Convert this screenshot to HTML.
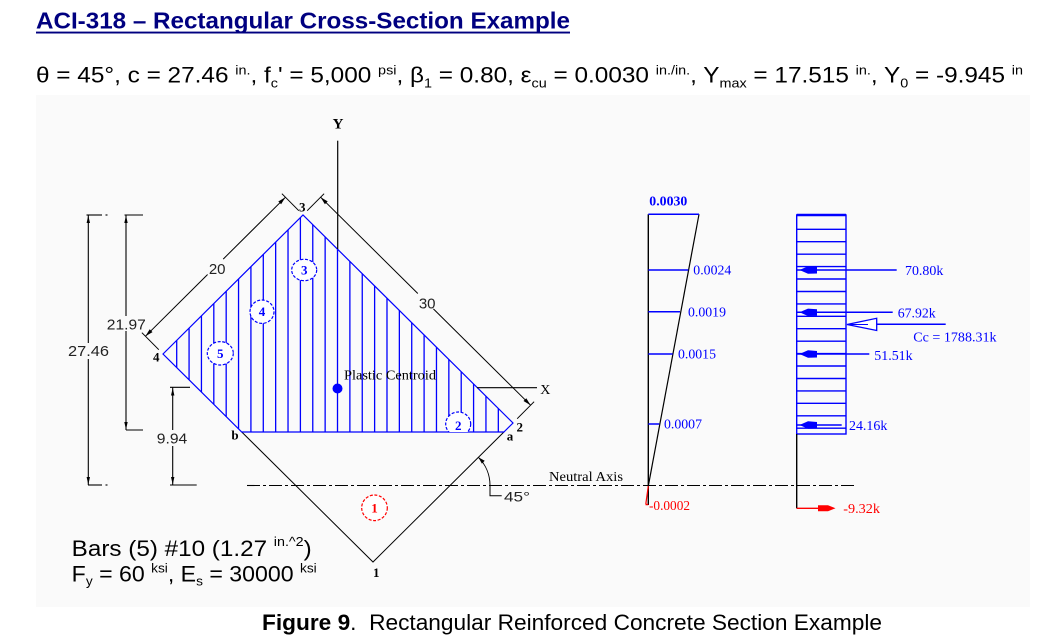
<!DOCTYPE html>
<html><head><meta charset="utf-8">
<style>
html,body{margin:0;padding:0;background:#fff;}
body{width:1056px;height:644px;overflow:hidden;}
svg{display:block;}
.s{font-family:"Liberation Sans",sans-serif;}
.r{font-family:"Liberation Serif",serif;}
</style></head><body>
<svg width="1056" height="644" viewBox="0 0 1056 644" xmlns="http://www.w3.org/2000/svg">
<rect x="36" y="95" width="994" height="512" fill="#fafafa"/>

<!-- Title -->
<text x="36" y="28.5" class="s" font-size="23" font-weight="bold" fill="#000080" textLength="534" lengthAdjust="spacingAndGlyphs">ACI-318 – Rectangular Cross-Section Example</text>
<rect x="36" y="31.6" width="534" height="1.9" fill="#000080"/>

<!-- Formula -->
<text x="36" y="82.5" class="s" font-size="22" fill="#000" textLength="987" lengthAdjust="spacingAndGlyphs" style="white-space:pre">θ = 45°, c = 27.46 <tspan font-size="13" dy="-8">in.</tspan><tspan dy="8">, f</tspan><tspan font-size="13" dy="5">c</tspan><tspan dy="-5">' = 5,000 </tspan><tspan font-size="13" dy="-8">psi</tspan><tspan dy="8">, β</tspan><tspan font-size="13" dy="5">1</tspan><tspan dy="-5"> = 0.80, ε</tspan><tspan font-size="13" dy="5">cu</tspan><tspan dy="-5"> = 0.0030 </tspan><tspan font-size="13" dy="-8">in./in.</tspan><tspan dy="8">, Y</tspan><tspan font-size="13" dy="5">max</tspan><tspan dy="-5"> = 17.515 </tspan><tspan font-size="13" dy="-8">in.</tspan><tspan dy="8">, Y</tspan><tspan font-size="13" dy="5">0</tspan><tspan dy="-5"> = -9.945 </tspan><tspan font-size="13" dy="-8">in</tspan></text>

<!-- Hatch lines -->
<g stroke="#0000ff" stroke-width="1.3">
<line x1="176.7" y1="340.4" x2="176.7" y2="367.6"/>
<line x1="189.07" y1="328.1" x2="189.07" y2="379.8"/>
<line x1="201.44" y1="315.8" x2="201.44" y2="392.1"/>
<line x1="213.81" y1="303.6" x2="213.81" y2="404.3"/>
<line x1="226.18" y1="291.3" x2="226.18" y2="416.6"/>
<line x1="238.55" y1="279.0" x2="238.55" y2="428.8"/>
<line x1="250.92" y1="266.7" x2="250.92" y2="432"/>
<line x1="263.29" y1="254.4" x2="263.29" y2="432"/>
<line x1="275.66" y1="242.1" x2="275.66" y2="432"/>
<line x1="288.03" y1="229.9" x2="288.03" y2="432"/>
<line x1="300.4" y1="217.6" x2="300.4" y2="432"/>
<line x1="312.77" y1="224.7" x2="312.77" y2="432"/>
<line x1="325.14" y1="236.9" x2="325.14" y2="432"/>
<line x1="337.51" y1="249.2" x2="337.51" y2="432"/>
<line x1="349.88" y1="261.4" x2="349.88" y2="432"/>
<line x1="362.25" y1="273.7" x2="362.25" y2="432"/>
<line x1="374.62" y1="285.9" x2="374.62" y2="432"/>
<line x1="386.99" y1="298.2" x2="386.99" y2="432"/>
<line x1="399.36" y1="310.4" x2="399.36" y2="432"/>
<line x1="411.73" y1="322.7" x2="411.73" y2="432"/>
<line x1="424.1" y1="334.9" x2="424.1" y2="432"/>
<line x1="436.47" y1="347.2" x2="436.47" y2="432"/>
<line x1="448.84" y1="359.4" x2="448.84" y2="432"/>
<line x1="461.21" y1="371.7" x2="461.21" y2="432"/>
<line x1="473.58" y1="384.0" x2="473.58" y2="432"/>
<line x1="485.95" y1="396.2" x2="485.95" y2="432"/>
<line x1="498.32" y1="408.4" x2="498.32" y2="432"/>
</g>

<!-- Diamond outline -->
<polyline points="241.75,432 373,562 503.9,432" fill="none" stroke="#000" stroke-width="1"/>
<polygon points="163,354 303,215 513,423 503.9,432 241.75,432" fill="none" stroke="#0000ff" stroke-width="1.2"/>

<!-- Axes -->
<line x1="337.7" y1="140.7" x2="337.7" y2="249" stroke="#000" stroke-width="1.2"/>
<text x="338" y="128.3" class="r" font-size="15" font-weight="bold" text-anchor="middle">Y</text>
<line x1="477" y1="387.7" x2="537" y2="387.7" stroke="#000" stroke-width="1.2"/>
<text x="545.3" y="394" class="r" font-size="14" text-anchor="middle">X</text>
<circle cx="337.5" cy="388.5" r="5" fill="#0000ff"/>
<text x="344" y="379.5" class="r" font-size="14" textLength="92" lengthAdjust="spacingAndGlyphs">Plastic Centroid</text>

<!-- Dimension 20 -->
<g stroke="#000" stroke-width="1" fill="none">
<line x1="145.4" y1="336.3" x2="207.6" y2="274.5"/>
<line x1="223.2" y1="259.1" x2="285.4" y2="197.3"/>
<line x1="298.8" y1="210.7" x2="281.9" y2="193.7"/>
<line x1="158.8" y1="349.7" x2="141.9" y2="332.7"/>
<!-- Dimension 30 -->
<line x1="320.6" y1="197.2" x2="417.8" y2="293.5"/>
<line x1="433.4" y1="308.9" x2="530.6" y2="405.2"/>
<line x1="307.2" y1="210.7" x2="324.1" y2="193.7"/>
<line x1="517.2" y1="418.7" x2="534.1" y2="401.7"/>
</g>
<g fill="#000">
<polygon points="285.4,197.3 281.1,204.3 278.3,201.5"/>
<polygon points="145.4,336.3 152.5,332.1 149.7,329.3"/>
<polygon points="320.6,197.2 327.7,201.4 324.9,204.2"/>
<polygon points="530.6,405.2 526.3,398.2 523.5,401.0"/>
</g>
<text x="217.2" y="274" class="s" font-size="15" fill="#222" text-anchor="middle">20</text>
<text x="427.2" y="308.3" class="s" font-size="15" fill="#222" text-anchor="middle">30</text>

<!-- Vertical dims -->
<g stroke="#000" stroke-width="1.1">
<line x1="88.3" y1="215" x2="88.3" y2="343"/>
<line x1="88.3" y1="359" x2="88.3" y2="485"/>
<line x1="86.5" y1="215" x2="102" y2="215"/>
<line x1="105.5" y1="215" x2="107.5" y2="215"/>
<line x1="88" y1="485" x2="102" y2="485"/>
<line x1="105.5" y1="485" x2="107.5" y2="485"/>
<line x1="126" y1="215" x2="126" y2="316"/>
<line x1="126" y1="331" x2="126" y2="430"/>
<line x1="124.5" y1="215" x2="143" y2="215"/>
<line x1="126" y1="430" x2="143" y2="430"/>
<line x1="172.7" y1="387.3" x2="172.7" y2="430"/>
<line x1="172.7" y1="446" x2="172.7" y2="485"/>
<line x1="170" y1="387.3" x2="190" y2="387.3"/>
<line x1="170" y1="485" x2="196.7" y2="485"/>
</g>
<g fill="#000">
<polygon points="88.3,215.5 86.6,223 90,223"/>
<polygon points="88.3,484.5 86.6,477 90,477"/>
<polygon points="126,215.5 124.3,223 127.7,223"/>
<polygon points="126,429.5 124.3,422 127.7,422"/>
<polygon points="172.7,388 171,395.5 174.4,395.5"/>
<polygon points="172.7,484.5 171,477 174.4,477"/>
</g>
<text x="88.5" y="356" class="s" font-size="15" fill="#222" text-anchor="middle" textLength="41" lengthAdjust="spacingAndGlyphs">27.46</text>
<text x="126.3" y="329.3" class="s" font-size="15" fill="#222" text-anchor="middle" textLength="39" lengthAdjust="spacingAndGlyphs">21.97</text>
<text x="172" y="443.3" class="s" font-size="15" fill="#222" text-anchor="middle" textLength="30.5" lengthAdjust="spacingAndGlyphs">9.94</text>

<!-- Neutral axis -->
<line x1="247" y1="485.5" x2="855" y2="485.5" stroke="#000" stroke-width="1.1" stroke-dasharray="13 3 3 3"/>
<text x="549" y="481" class="r" font-size="14" textLength="74" lengthAdjust="spacingAndGlyphs">Neutral Axis</text>

<!-- 45 deg -->
<path d="M490,485.5 A40,40 0 0 0 478.3,457.2" fill="none" stroke="#000" stroke-width="1"/>
<polygon points="478.3,457.2 484.7,460.8 481.9,463.6" fill="#000"/>
<polyline points="490,485.5 490,495.7 501.7,495.7" fill="none" stroke="#000" stroke-width="1"/>
<text x="504" y="501.7" class="s" font-size="14" fill="#222" textLength="26" lengthAdjust="spacingAndGlyphs">45°</text>

<!-- Corner labels -->
<g class="r" font-size="13" font-weight="bold" text-anchor="middle" fill="#000">
<text x="302.3" y="211.7">3</text>
<text x="156.3" y="361.7">4</text>
<text x="235" y="439.3">b</text>
<text x="519.7" y="431.7">2</text>
<text x="510" y="440.7">a</text>
<text x="376.3" y="577">1</text>
</g>

<!-- Circles -->
<defs><clipPath id="c2"><rect x="430" y="400" width="60" height="32"/></clipPath></defs>
<g fill="#fff" stroke-width="1.2" stroke-dasharray="3 1.6">
<ellipse cx="374.5" cy="507.8" rx="12.8" ry="12.8" stroke="#ff0000"/>
<ellipse cx="304.2" cy="270" rx="12.5" ry="10.7" stroke="#0000ff"/>
<ellipse cx="262" cy="311.7" rx="12" ry="11.7" stroke="#0000ff"/>
<ellipse cx="220.3" cy="353.3" rx="13" ry="11.7" stroke="#0000ff"/>
<ellipse cx="458.2" cy="424" rx="12.5" ry="12" stroke="#0000ff" clip-path="url(#c2)"/>
</g>
<g class="r" font-size="13" font-weight="bold" text-anchor="middle">
<text x="374.5" y="512.5" fill="#ff0000">1</text>
<text x="304.2" y="274.5" fill="#0000ff">3</text>
<text x="262" y="316.2" fill="#0000ff">4</text>
<text x="220.3" y="357.8" fill="#0000ff">5</text>
<text x="458.2" y="430" fill="#0000ff">2</text>
</g>

<!-- Strain diagram -->
<line x1="648.3" y1="214.3" x2="648.3" y2="505" stroke="#000" stroke-width="1.4"/>
<line x1="699" y1="214.3" x2="648.3" y2="486" stroke="#000" stroke-width="1.2"/>
<line x1="648.3" y1="486" x2="645.8" y2="504" stroke="#ff0000" stroke-width="1.2"/>
<line x1="645.5" y1="504.5" x2="648.3" y2="504.5" stroke="#ff0000" stroke-width="1.5"/>
<g stroke="#0000ff" stroke-width="1.5">
<line x1="648.3" y1="214.3" x2="699" y2="214.3"/>
<line x1="648.3" y1="270" x2="688.3" y2="270"/>
<line x1="648.3" y1="311.7" x2="680" y2="311.7"/>
<line x1="648.3" y1="354" x2="672.7" y2="354"/>
<line x1="648.3" y1="424" x2="659.3" y2="424"/>
</g>
<g class="r" font-size="14" fill="#0000ff">
<text x="649.3" y="205.5" font-weight="bold" textLength="38" lengthAdjust="spacingAndGlyphs">0.0030</text>
<text x="693.3" y="274.5" textLength="38" lengthAdjust="spacingAndGlyphs">0.0024</text>
<text x="688" y="316.5" textLength="38" lengthAdjust="spacingAndGlyphs">0.0019</text>
<text x="678" y="358.5" textLength="38" lengthAdjust="spacingAndGlyphs">0.0015</text>
<text x="664" y="428.5" textLength="38" lengthAdjust="spacingAndGlyphs">0.0007</text>
<text x="649" y="510" fill="#ff0000" textLength="41" lengthAdjust="spacingAndGlyphs">-0.0002</text>
</g>

<!-- Force diagram -->
<g stroke="#0000ff" stroke-width="1.4" fill="none">
<rect x="796.7" y="215" width="49.3" height="219"/>
<line x1="796.7" y1="215" x2="846" y2="215" stroke-width="2.5"/>
<line x1="796.7" y1="229.3" x2="846" y2="229.3"/>
<line x1="796.7" y1="241.7" x2="846" y2="241.7"/>
<line x1="796.7" y1="254.2" x2="846" y2="254.2"/>
<line x1="796.7" y1="266.6" x2="846" y2="266.6"/>
<line x1="796.7" y1="279" x2="846" y2="279"/>
<line x1="796.7" y1="291.5" x2="846" y2="291.5"/>
<line x1="796.7" y1="303.9" x2="846" y2="303.9"/>
<line x1="796.7" y1="316.3" x2="846" y2="316.3"/>
<line x1="796.7" y1="328.7" x2="846" y2="328.7"/>
<line x1="796.7" y1="341.2" x2="846" y2="341.2"/>
<line x1="796.7" y1="353.6" x2="846" y2="353.6"/>
<line x1="796.7" y1="366" x2="846" y2="366"/>
<line x1="796.7" y1="378.5" x2="846" y2="378.5"/>
<line x1="796.7" y1="390.9" x2="846" y2="390.9"/>
<line x1="796.7" y1="403.3" x2="846" y2="403.3"/>
<line x1="796.7" y1="415.8" x2="846" y2="415.8"/>
<line x1="796.7" y1="428.2" x2="846" y2="428.2"/>
<!-- force lines -->
<line x1="797" y1="270" x2="896.7" y2="270" stroke-width="1.5"/>
<line x1="797" y1="312.3" x2="892.7" y2="312.3" stroke-width="1.5"/>
<line x1="797" y1="354" x2="869.3" y2="354" stroke-width="1.5"/>
<line x1="797" y1="425" x2="841.7" y2="425" stroke-width="1.5"/>
<line x1="876.7" y1="324.3" x2="945.7" y2="324.3" stroke-width="1.5"/>
</g>
<g fill="#0000ff">
<polygon points="799.5,270 808,266.3 817,267 817,273.5 808,273.7"/>
<polygon points="799.5,312.3 808,308.6 817,309.3 817,315.8 808,316"/>
<polygon points="799.5,354 808,350.3 817,351 817,357.5 808,357.7"/>
<polygon points="799.5,425 808,421.3 817,422 817,428.5 808,428.7"/>
</g>
<polygon points="847,324.5 876.7,318.3 876.7,330.5" fill="#fff" stroke="#0000ff" stroke-width="1.3"/>
<line x1="850" y1="324.5" x2="868" y2="324.5" stroke="#0000ff" stroke-width="1"/>
<g class="r" font-size="14" fill="#0000ff">
<text x="905" y="275" textLength="38.3" lengthAdjust="spacingAndGlyphs">70.80k</text>
<text x="897.7" y="317.3" textLength="38" lengthAdjust="spacingAndGlyphs">67.92k</text>
<text x="913.3" y="341.7" textLength="83.3" lengthAdjust="spacingAndGlyphs">Cc = 1788.31k</text>
<text x="874.3" y="360" textLength="38.3" lengthAdjust="spacingAndGlyphs">51.51k</text>
<text x="849" y="430" textLength="38.3" lengthAdjust="spacingAndGlyphs">24.16k</text>
<text x="843.3" y="513" fill="#ff0000" textLength="36.7" lengthAdjust="spacingAndGlyphs">-9.32k</text>
</g>
<line x1="796.7" y1="434" x2="796.7" y2="508.3" stroke="#000" stroke-width="1.4"/>
<line x1="796.7" y1="508.3" x2="820" y2="508.3" stroke="#ff0000" stroke-width="1.4"/>
<polygon points="818,505.3 828,505.3 835.5,508.3 828,511.3 818,511.3" fill="#ff0000"/>

<!-- Bottom text -->
<text x="71.7" y="556" class="s" font-size="22" fill="#000" textLength="240" lengthAdjust="spacingAndGlyphs" style="white-space:pre">Bars (5) #10 (1.27 <tspan font-size="13" dy="-10">in.^2</tspan><tspan dy="10">)</tspan></text>
<text x="71.7" y="581.7" class="s" font-size="22" fill="#000" textLength="245" lengthAdjust="spacingAndGlyphs" style="white-space:pre">F<tspan font-size="13" dy="4">y</tspan><tspan dy="-4"> = 60 </tspan><tspan font-size="13" dy="-9">ksi</tspan><tspan dy="9">, E</tspan><tspan font-size="13" dy="4">s</tspan><tspan dy="-4"> = 30000 </tspan><tspan font-size="13" dy="-9">ksi</tspan></text>

<!-- Caption -->
<text x="262" y="630" class="s" font-size="22" fill="#000" textLength="620" lengthAdjust="spacingAndGlyphs" style="white-space:pre"><tspan font-weight="bold">Figure 9</tspan>.  Rectangular Reinforced Concrete Section Example</text>
</svg>
</body></html>
